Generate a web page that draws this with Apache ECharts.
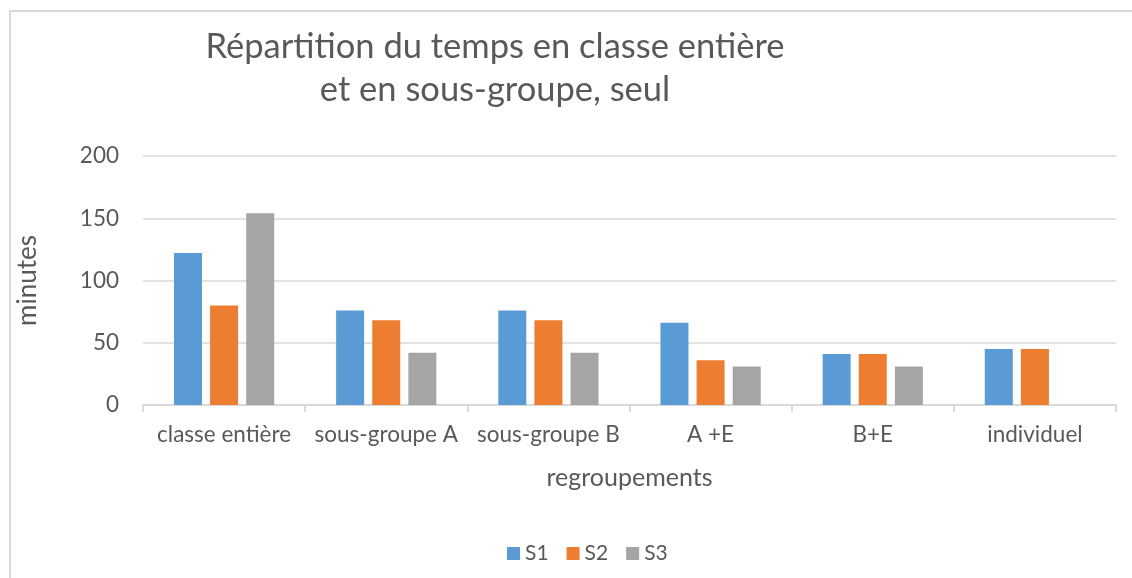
<!DOCTYPE html>
<html>
<head>
<meta charset="utf-8">
<script src="https://cdn.jsdelivr.net/npm/echarts@6/dist/echarts.min.js"></script>
<style>
  html, body { margin: 0; padding: 0; background: #fff; overflow: hidden; }
  #frame {
    position: absolute; left: 9px; top: 10px; width: 1200px; height: 700px;
    border-top: 2px solid #d9d9d9; border-left: 2px solid #d9d9d9;
  }
  #chart { position: absolute; left: 0; top: 0; width: 1132px; height: 578px; }
</style>
</head>
<body>
<div id="frame"></div>
<div id="chart"></div>
<script>
// regroupements
const categories = ["classe entière", "sous-groupe A", "sous-groupe B", "A +E", "B+E", "individuel"];
// minutes par séance
const s1 = [122, 76, 76, 66, 41, 45];
const s2 = [80, 68, 68, 36, 41, 45];
const s3 = [154, 42, 42, 31, 31, null];
const seriesNames = ["S1", "S2", "S3"];
const colors = ["#5b9bd5", "#ed7d31", "#a5a5a5"];

const font = "Lato";
const textColor = "#595959";

let myChart = echarts.init(document.getElementById("chart"));

function barSeries(name, data, i) {
  return {
    name: name,
    type: "bar",
    data: data,
    barWidth: 28,
    barGap: "29%",
    itemStyle: { color: colors[i] }
  };
}

myChart.setOption({
  animation: false,
  color: colors,
  title: {
    text: "Répartition du temps en classe entière\net en sous-groupe, seul",
    left: 490,
    top: 20,
    textAlign: "center",
    textStyle: {
      fontFamily: font,
      fontWeight: "normal",
      fontSize: 34.5,
      lineHeight: 43,
      color: textColor
    }
  },
  legend: {
    data: seriesNames,
    left: 502,
    top: 538,
    itemWidth: 13,
    itemHeight: 13,
    itemGap: 18,
    icon: "rect",
    textStyle: { fontFamily: font, fontSize: 21, color: textColor }
  },
  grid: { left: 143, right: 16, top: 156, bottom: 173 },
  xAxis: {
    type: "category",
    data: categories,
    name: "regroupements",
    nameLocation: "middle",
    nameGap: 60,
    nameTextStyle: { fontFamily: font, fontSize: 25, color: textColor },
    axisLine: { lineStyle: { color: "#d9d9d9", width: 2 } },
    axisTick: { show: true, interval: 0, length: 7, lineStyle: { color: "#d9d9d9", width: 2 } },
    axisLabel: { interval: 0, fontFamily: font, fontSize: 22.5, color: textColor, margin: 18 }
  },
  yAxis: {
    type: "value",
    min: 0,
    max: 200,
    interval: 50,
    name: "minutes",
    nameLocation: "middle",
    nameGap: 102,
    nameTextStyle: { fontFamily: font, fontSize: 26, color: textColor },
    axisLine: { show: false },
    axisTick: { show: false },
    axisLabel: { fontFamily: font, fontSize: 22.5, color: textColor, margin: 24 },
    splitLine: { lineStyle: { color: "#d9d9d9", width: 1.5 } }
  },
  series: [
    barSeries("S1", s1, 0),
    barSeries("S2", s2, 1),
    barSeries("S3", s3, 2)
  ]
});
</script>
</body>
</html>
